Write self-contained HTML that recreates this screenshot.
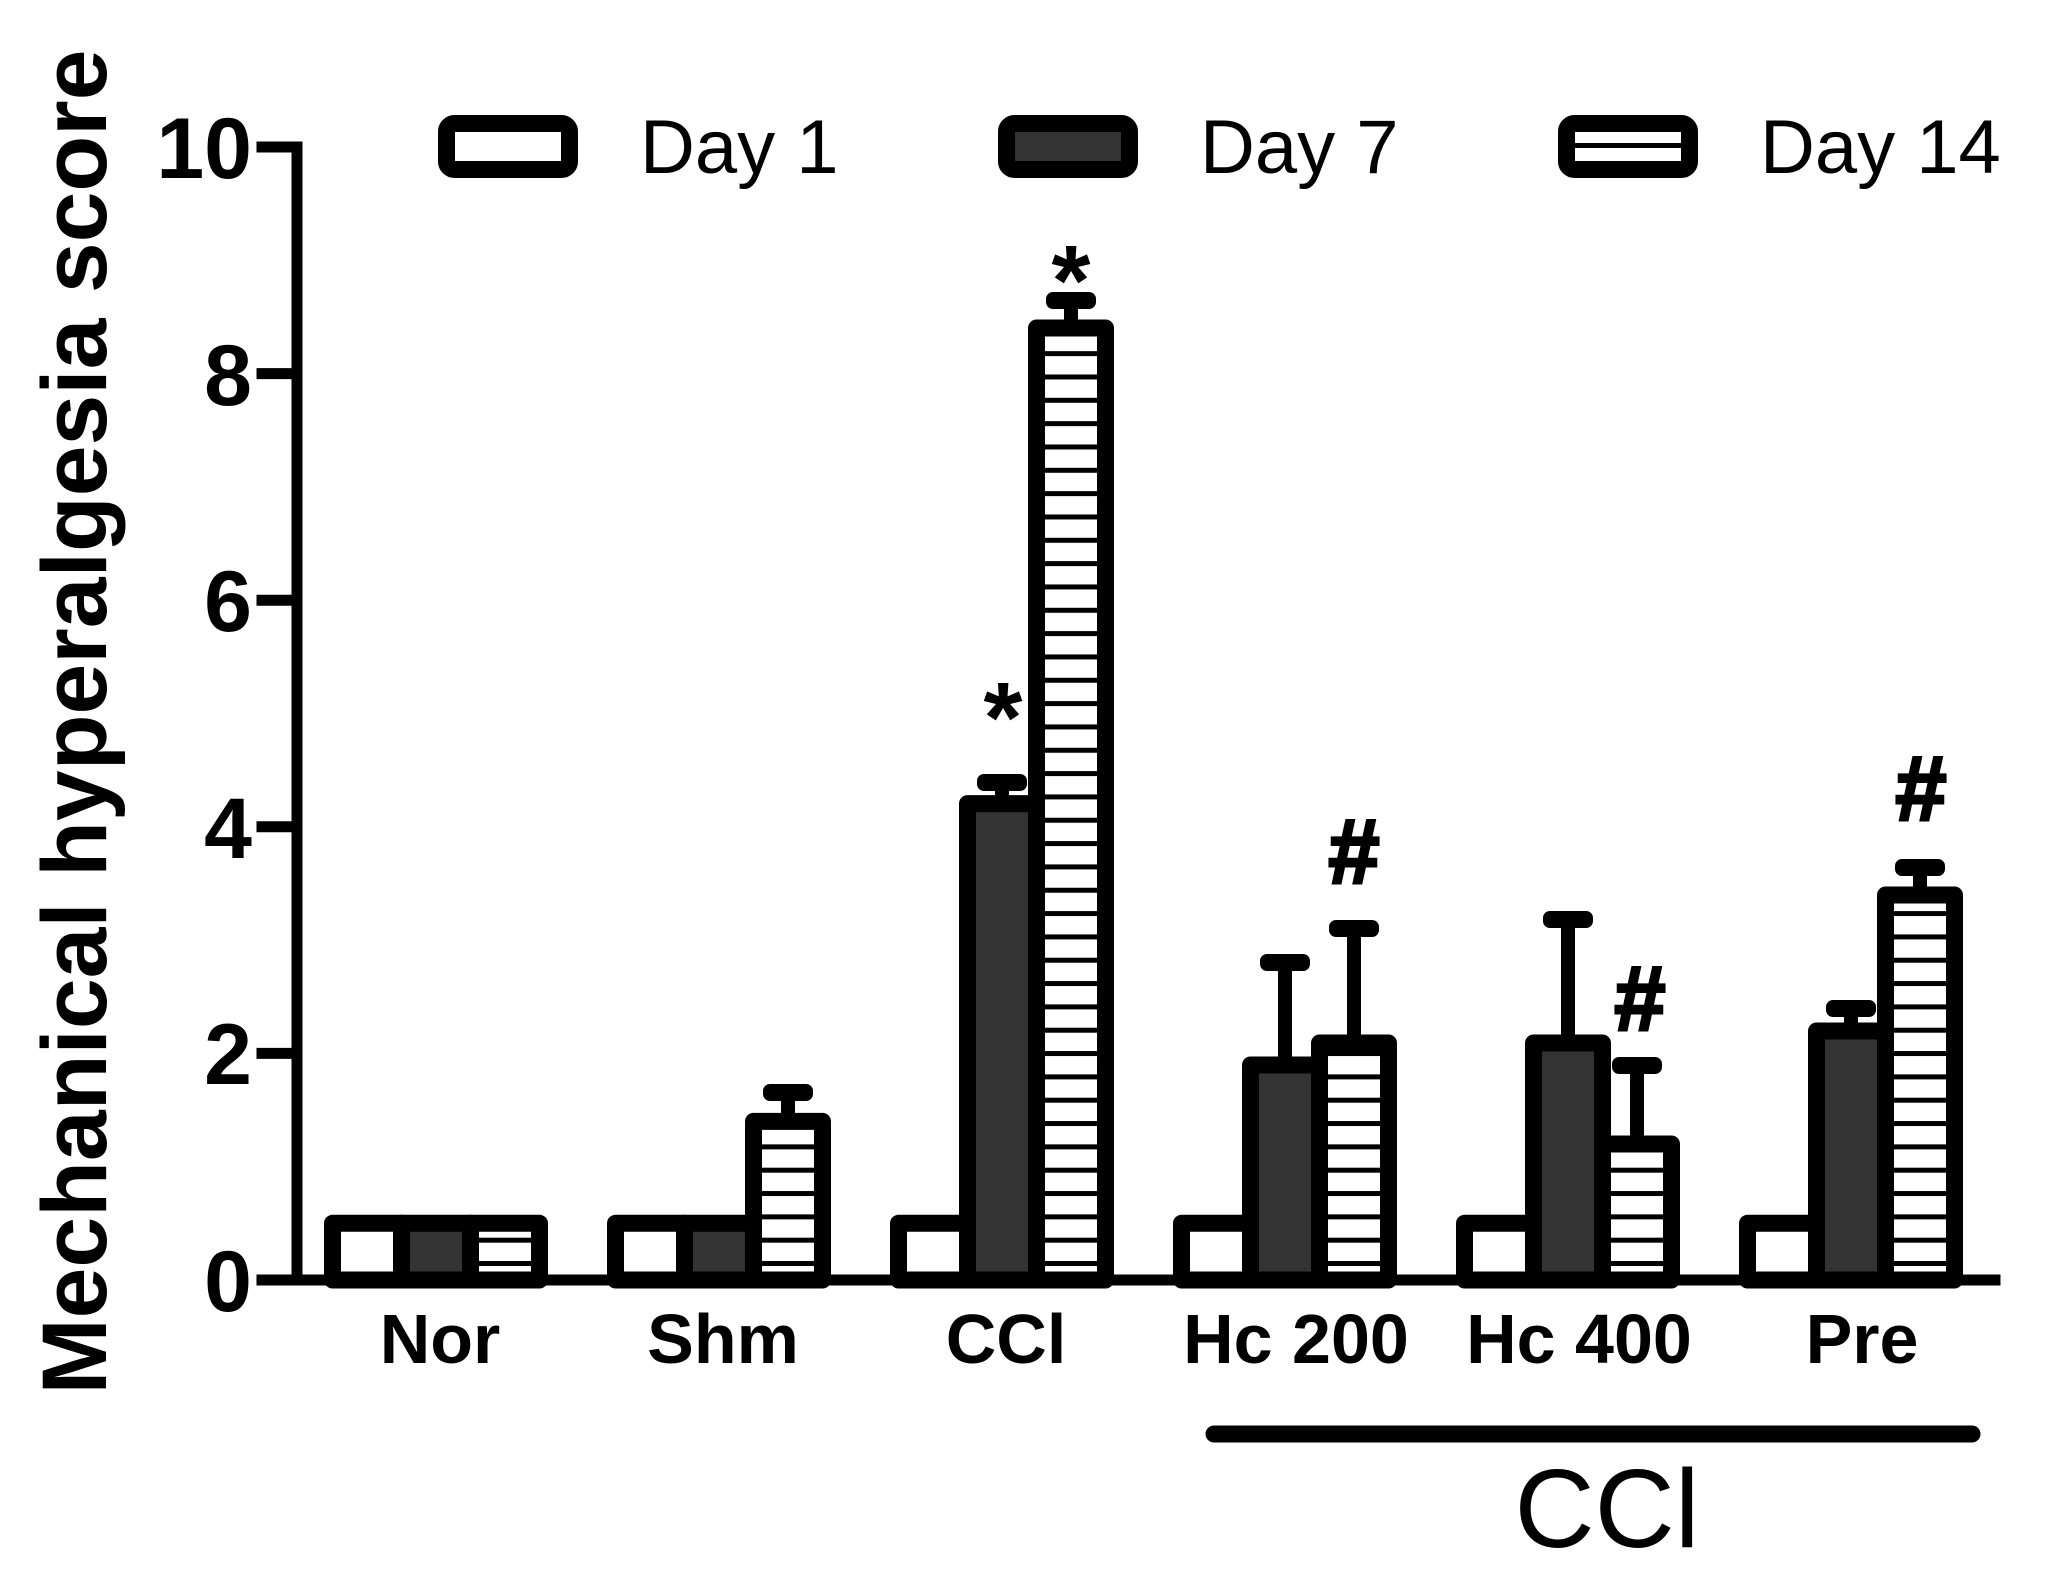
<!DOCTYPE html>
<html><head><meta charset="utf-8"><style>html,body{margin:0;padding:0;background:#fff}svg{display:block}</style></head>
<body>
<svg width="2058" height="1591" viewBox="0 0 2058 1591" xmlns="http://www.w3.org/2000/svg" font-family="Liberation Sans, Arial, sans-serif">
<defs>
<pattern id="h" patternUnits="userSpaceOnUse" width="20" height="23.33" y="1.2">
<rect width="20" height="23.33" fill="#fff"/><rect y="0" width="20" height="5" fill="#000"/>
</pattern>
</defs>
<rect width="2058" height="1591" fill="#fff"/>
<text transform="translate(106,722) rotate(-90)" text-anchor="middle" font-weight="bold" font-size="92" textLength="1345" lengthAdjust="spacingAndGlyphs">Mechanical hyperalgesia score</text>
<g stroke="#000" stroke-width="11" fill="none" stroke-linecap="square">
<line x1="297" y1="147" x2="297" y2="1280"/>
<line x1="262" y1="1280" x2="1995" y2="1280"/>
<line x1="262" y1="147" x2="297" y2="147"/>
<line x1="262" y1="373.6" x2="297" y2="373.6"/>
<line x1="262" y1="600.2" x2="297" y2="600.2"/>
<line x1="262" y1="826.8" x2="297" y2="826.8"/>
<line x1="262" y1="1053.4" x2="297" y2="1053.4"/>
</g>
<g font-weight="bold" font-size="86" text-anchor="end">
<text x="252" y="178">10</text>
<text x="252" y="405">8</text>
<text x="252" y="631">6</text>
<text x="252" y="858">4</text>
<text x="252" y="1084">2</text>
<text x="252" y="1311">0</text>
</g>
<g stroke="#000" stroke-width="17" stroke-linejoin="round">
<rect x="332.5" y="1223.3" width="69" height="56.7" fill="#fff"/>
<rect x="401.5" y="1223.3" width="69" height="56.7" fill="#333"/>
<rect x="470.5" y="1223.3" width="69" height="56.7" fill="url(#h)"/>
<rect x="615.5" y="1223.3" width="69" height="56.7" fill="#fff"/>
<rect x="684.5" y="1223.3" width="69" height="56.7" fill="#333"/>
<rect x="753.5" y="1121.4" width="69" height="158.6" fill="url(#h)"/>
<rect x="898.5" y="1223.3" width="69" height="56.7" fill="#fff"/>
<rect x="967.5" y="803.6" width="69" height="476.4" fill="#333"/>
<rect x="1036.5" y="328" width="69" height="952" fill="url(#h)"/>
<rect x="1181.5" y="1223.3" width="69" height="56.7" fill="#fff"/>
<rect x="1250.5" y="1065" width="69" height="215" fill="#333"/>
<rect x="1319.5" y="1043" width="69" height="237" fill="url(#h)"/>
<rect x="1464.5" y="1223.3" width="69" height="56.7" fill="#fff"/>
<rect x="1533.5" y="1043" width="69" height="237" fill="#333"/>
<rect x="1602.5" y="1144" width="69" height="136" fill="url(#h)"/>
<rect x="1747.5" y="1223.3" width="69" height="56.7" fill="#fff"/>
<rect x="1816.5" y="1031" width="69" height="249" fill="#333"/>
<rect x="1885.5" y="895" width="69" height="385" fill="url(#h)"/>
</g>
<g fill="#000">
<rect x="781" y="1093" width="14" height="25"/><rect x="763" y="1084" width="50" height="17" rx="7"/>
<rect x="995" y="782" width="14" height="18"/><rect x="977" y="774" width="50" height="17" rx="7"/>
<rect x="1064" y="300" width="14" height="25"/><rect x="1046" y="292" width="50" height="17" rx="7"/>
<rect x="1278" y="962" width="14" height="100"/><rect x="1260" y="954" width="50" height="17" rx="7"/>
<rect x="1347" y="928" width="14" height="112"/><rect x="1329" y="920" width="50" height="17" rx="7"/>
<rect x="1561" y="919" width="14" height="121"/><rect x="1543" y="911" width="50" height="17" rx="7"/>
<rect x="1630" y="1065" width="14" height="76"/><rect x="1612" y="1057" width="50" height="17" rx="7"/>
<rect x="1844" y="1008" width="14" height="20"/><rect x="1826" y="1000" width="50" height="17" rx="7"/>
<rect x="1913" y="867" width="14" height="25"/><rect x="1895" y="859" width="50" height="17" rx="7"/>
</g>
<g font-weight="bold" text-anchor="middle">
<text x="1003" y="752" font-size="100">*</text>
<text x="1071" y="315" font-size="100">*</text>
</g>
<g font-weight="bold" text-anchor="middle" font-size="92" stroke="#000" stroke-width="3">
<text x="1354" y="883">#</text>
<text x="1640" y="1030">#</text>
<text x="1921" y="820">#</text>
</g>
<g font-weight="bold" font-size="70" text-anchor="middle">
<text x="440" y="1363">Nor</text>
<text x="723" y="1363">Shm</text>
<text x="1006" y="1363">CCl</text>
<text x="1296" y="1363">Hc 200</text>
<text x="1579" y="1363">Hc 400</text>
<text x="1862" y="1363">Pre</text>
</g>
<line x1="1214" y1="1434" x2="1972" y2="1434" stroke="#000" stroke-width="17" stroke-linecap="round"/>
<text x="1607" y="1547" font-size="111" text-anchor="middle">CCl</text>
<g stroke="#000" stroke-width="17">
<rect x="446.5" y="123.5" width="123" height="46" rx="8" fill="#fff"/>
<rect x="1006.5" y="123.5" width="123" height="46" rx="8" fill="#333"/>
<rect x="1566.5" y="123.5" width="123" height="46" rx="8" fill="#fff"/>
</g>
<rect x="1575" y="143" width="106" height="5" fill="#000"/>
<g font-size="76">
<text x="640" y="173">Day 1</text>
<text x="1200" y="173">Day 7</text>
<text x="1760" y="173">Day 14</text>
</g>
</svg>
</body></html>
